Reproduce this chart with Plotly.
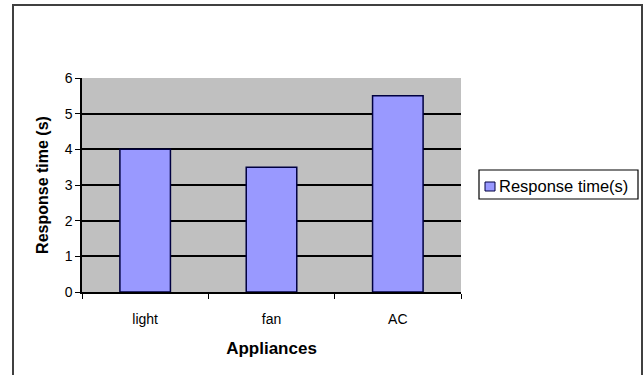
import plotly.graph_objects as go

# Response time per appliance
appliances = ["light", "fan", "AC"]
response_time = [4.0, 3.5, 5.5]
series_name = "Response time(s)"
y_ticks = [0, 1, 2, 3, 4, 5, 6]

FONT = "Liberation Sans, Arial, sans-serif"
BAR_FILL = "#9999FF"
BAR_EDGE = "#000040"

W, H = 643, 375
L, R, T, B = 82, 182, 78, 83
pw, ph = W - L - R, H - T - B


def px_x(p):
    return (p - L) / pw


def px_y(p):
    return (H - B - p) / ph


fig = go.Figure()
fig.add_trace(go.Bar(
    x=appliances,
    y=response_time,
    name=series_name,
    width=0.4,
    marker=dict(color=BAR_FILL, line=dict(color=BAR_EDGE, width=1.5)),
    showlegend=False,
))

# legend box, swatch and label, drawn to the right of the plot area
legend_shapes = [
    dict(type="rect", xref="paper", yref="paper",
         x0=px_x(479), x1=px_x(638), y0=px_y(199), y1=px_y(170),
         line=dict(color="black", width=1.2), fillcolor="white"),
    dict(type="rect", xref="paper", yref="paper",
         x0=px_x(485), x1=px_x(495), y0=px_y(191), y1=px_y(182),
         line=dict(color=BAR_EDGE, width=1), fillcolor=BAR_FILL),
]
legend_label = dict(
    text=series_name, xref="paper", yref="paper",
    x=px_x(497), y=px_y(185.5), xanchor="left", yanchor="middle",
    showarrow=False, font=dict(family=FONT, size=16.5, color="black"),
)

fig.update_layout(
    width=W,
    height=H,
    margin=dict(l=L, r=R, t=T, b=B, pad=0, autoexpand=False),
    paper_bgcolor="white",
    plot_bgcolor="#C0C0C0",
    font=dict(family=FONT, size=14, color="black"),
    showlegend=False,
    xaxis=dict(
        type="category",
        tickson="boundaries",
        ticks="outside", ticklen=5, tickcolor="black", tickwidth=1,
        ticklabelstandoff=13,
        showline=True, linecolor="black", linewidth=1.5,
        showgrid=False,
        tickfont=dict(family=FONT, size=14),
        title=dict(text="<b>Appliances</b>", font=dict(family=FONT, size=17), standoff=17),
    ),
    yaxis=dict(
        range=[0, 6],
        tickvals=y_ticks,
        ticks="outside", ticklen=5, tickcolor="black", tickwidth=1,
        showline=True, linecolor="black", linewidth=1.5,
        showgrid=True, gridcolor="black", gridwidth=1.5,
        zeroline=False,
        tickfont=dict(family=FONT, size=14),
        title=dict(text="<b>Response time (s)</b>", font=dict(family=FONT, size=16), standoff=12),
    ),
    bargap=0.6,
    shapes=[
        # chart frame
        dict(type="rect", xref="paper", yref="paper",
             x0=px_x(13), x1=px_x(642), y0=px_y(385), y1=px_y(5),
             line=dict(color="#404040", width=2), layer="below"),
    ] + legend_shapes,
    annotations=[legend_label],
)

fig.write_html("out.html")
